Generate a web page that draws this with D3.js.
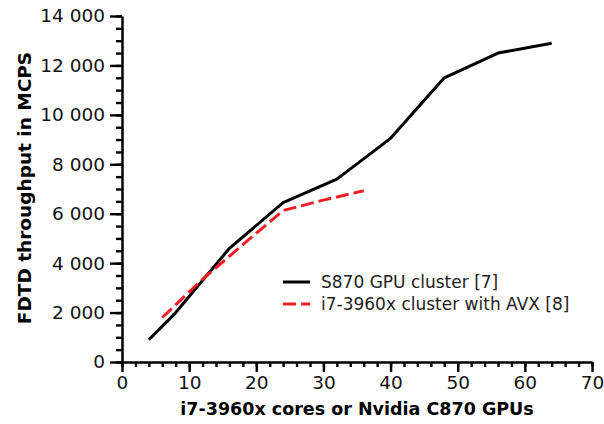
<!DOCTYPE html>
<html>
<head>
<meta charset="utf-8">
<script src="https://cdn.jsdelivr.net/npm/d3@7"></script>
<style>
  html, body { margin: 0; padding: 0; background: #fff; }
  svg { display: block; font-family: "DejaVu Sans", Verdana, sans-serif; }
</style>
</head>
<body>
<svg id="chart" width="604" height="424"></svg>
<script>
// S870 GPU cluster [7]
const gpuUnits = [4, 8, 16, 24, 32, 40, 48, 56, 64];
const gpuMcps = [900, 2000, 4600, 6450, 7400, 9050, 11500, 12500, 12900];

// i7-3960x cluster with AVX [8]
const cpuCores = [6, 12, 18, 24, 30, 36];
const cpuMcps = [1800, 3350, 4750, 6130, 6550, 6930];

const seriesNames = ['S870 GPU cluster [7]', 'i7-3960x cluster with AVX [8]'];
const xTicks = [0, 10, 20, 30, 40, 50, 60, 70];
const yTicks = [0, 2000, 4000, 6000, 8000, 10000, 12000, 14000];
const xTitle = 'i7-3960x cores or Nvidia C870 GPUs';
const yTitle = 'FDTD throughput in MCPS';

const svg = d3.select('#chart');
const margin = { top: 16, right: 12, bottom: 62, left: 122 };
const width = +svg.attr('width') - margin.left - margin.right;
const height = +svg.attr('height') - margin.top - margin.bottom;

const x = d3.scaleLinear().domain([0, 70]).range([0, width]);
const y = d3.scaleLinear().domain([0, 14000]).range([height, 0]);

const g = svg.append('g')
  .attr('transform', `translate(${margin.left},${margin.top})`);

const fmt = d => d3.format(',')(d).replace(/,/g, ' ');

// minor ticks
const xAxisMinor = g.append('g')
  .attr('transform', `translate(0,${height})`)
  .call(d3.axisBottom(x).tickValues(d3.range(0, 71, 2)).tickSize(5).tickFormat(''));
const yAxisMinor = g.append('g')
  .call(d3.axisLeft(y).tickValues(d3.range(0, 14001, 500)).tickSize(6).tickFormat(''));

const xAxis = g.append('g')
  .attr('transform', `translate(0,${height})`)
  .call(d3.axisBottom(x).tickValues(xTicks).tickSize(10).tickSizeOuter(0).tickPadding(4));
const yAxis = g.append('g')
  .call(d3.axisLeft(y).tickValues(yTicks).tickSize(12).tickSizeOuter(0).tickPadding(5).tickFormat(fmt));

[xAxisMinor, yAxisMinor, xAxis, yAxis].forEach(a => {
  a.selectAll('path').attr('stroke', '#000').attr('stroke-width', 2.5);
  a.selectAll('line').attr('stroke', '#000').attr('stroke-width', 2.4);
  a.selectAll('text').attr('fill', '#111').style('font-size', '18.5px').style('font-family', '"DejaVu Sans", Verdana, sans-serif');
});
xAxisMinor.select('path').remove();
yAxisMinor.select('path').remove();

const line = d3.line().x(d => x(d[0])).y(d => y(d[1]));

g.append('path')
  .datum(d3.zip(gpuUnits, gpuMcps))
  .attr('fill', 'none')
  .attr('stroke', '#000')
  .attr('stroke-width', 3)
  .attr('stroke-linejoin', 'round')
  .attr('d', line);

g.append('path')
  .datum(d3.zip(cpuCores, cpuMcps))
  .attr('fill', 'none')
  .attr('stroke', '#ee1f26')
  .attr('stroke-width', 3)
  .attr('stroke-dasharray', '13,5')
  .attr('d', line);

// axis titles
svg.append('text')
  .attr('x', margin.left + width / 2)
  .attr('y', 415)
  .attr('text-anchor', 'middle')
  .style('font-size', '17.5px')
  .style('font-weight', 'bold')
  .text(xTitle);

svg.append('text')
  .attr('transform', `translate(31,${margin.top + height / 2 - 1}) rotate(-90)`)
  .attr('text-anchor', 'middle')
  .style('font-size', '18.5px')
  .style('font-weight', 'bold')
  .text(yTitle);

// legend
const legend = svg.append('g').attr('transform', 'translate(283,282)');
const legendStyles = [
  { stroke: '#000', dash: null },
  { stroke: '#ee1f26', dash: '13,5' }
];
seriesNames.forEach((name, i) => {
  const row = legend.append('g').attr('transform', `translate(0,${i * 22})`);
  row.append('line')
    .attr('x1', 0).attr('x2', 27).attr('y1', 0).attr('y2', 0)
    .attr('stroke', legendStyles[i].stroke)
    .attr('stroke-width', 3)
    .attr('stroke-dasharray', legendStyles[i].dash);
  row.append('text')
    .attr('x', 38)
    .attr('y', 0)
    .attr('dy', '0.35em')
    .attr('fill', '#222')
    .style('font-size', '17px')
    .text(name);
});
</script>
</body>
</html>
